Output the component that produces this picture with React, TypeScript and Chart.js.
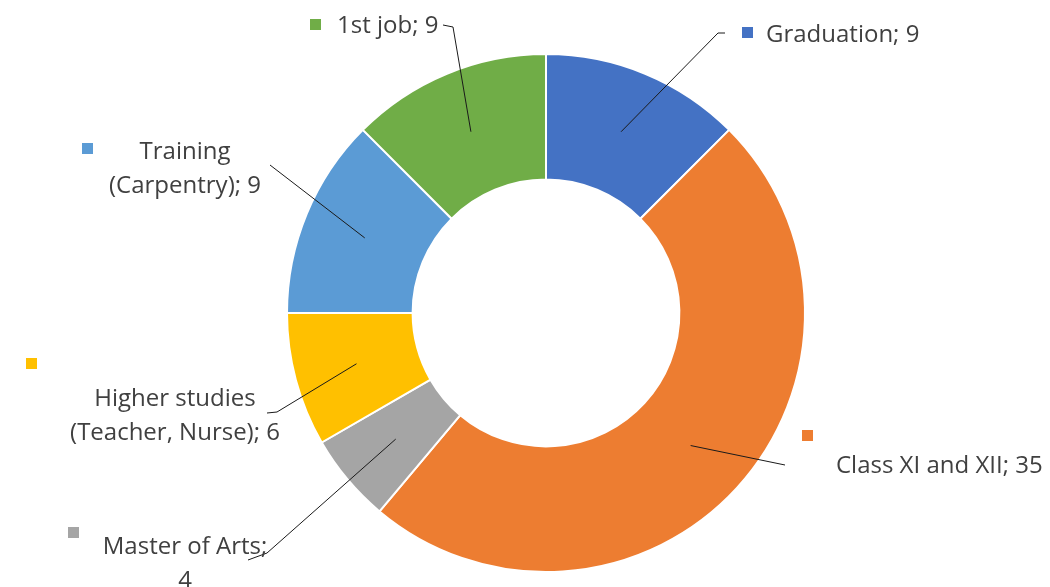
import React, { useEffect, useRef } from "react";
import { Chart, registerables } from "chart.js";

Chart.register(...registerables);

const categories = [
  "Graduation",
  "Class XI and XII",
  "Master of Arts",
  "Higher studies (Teacher, Nurse)",
  "Training (Carpentry)",
  "1st job",
];
const values = [9, 35, 4, 6, 9, 9];
const colors = ["#4472C4", "#ED7D31", "#A5A5A5", "#FFC000", "#5B9BD5", "#70AD47"];

// label layout: text lines, text anchor, alignment, legend-square position, leader elbow points
const labelLines = [
  ["Graduation; 9"],
  ["Class XI and XII; 35"],
  ["Master of Arts;", "4"],
  ["Higher studies", "(Teacher, Nurse); 6"],
  ["Training", "(Carpentry); 9"],
  ["1st job; 9"],
];
const labelLayout = [
  { x: 766, y: 35, align: "left", sq: [742, 27], elbow: [[725, 33], [718, 33]] },
  { x: 836, y: 466, align: "left", sq: [802, 430], elbow: [[785, 465]] },
  { x: 185, y: 547, align: "center", sq: [68, 527], elbow: [[248, 560], [267, 553]] },
  { x: 175, y: 399, align: "center", sq: [26, 358], elbow: [[267, 413], [277, 412]] },
  { x: 185, y: 152, align: "center", sq: [82, 143], elbow: [[270, 165]] },
  { x: 337, y: 26, align: "left", sq: [310, 19], elbow: [[443, 25], [453, 27]] },
];

const labelPlugin = {
  id: "leaderLabels",
  afterDraw(chart: any) {
    const ctx = chart.ctx;
    const meta = chart.getDatasetMeta(0);
    ctx.save();
    meta.data.forEach((arc: any, i: number) => {
      const L = labelLayout[i];
      const p = arc.getProps(["x", "y", "startAngle", "endAngle", "innerRadius", "outerRadius"], true);
      const mid = (p.startAngle + p.endAngle) / 2;
      const r = (p.innerRadius + p.outerRadius) / 2;
      const cx = p.x + Math.cos(mid) * r;
      const cy = p.y + Math.sin(mid) * r;
      ctx.strokeStyle = "#1a1a1a";
      ctx.lineWidth = 1;
      ctx.beginPath();
      ctx.moveTo(L.elbow[0][0], L.elbow[0][1]);
      for (let k = 1; k < L.elbow.length; k++) ctx.lineTo(L.elbow[k][0], L.elbow[k][1]);
      ctx.lineTo(cx, cy);
      ctx.stroke();
      ctx.fillStyle = colors[i];
      ctx.fillRect(L.sq[0], L.sq[1], 11, 11);
      ctx.fillStyle = "#404040";
      ctx.font = "24px 'Open Sans', sans-serif";
      ctx.textAlign = L.align as CanvasTextAlign;
      ctx.textBaseline = "middle";
      labelLines[i].forEach((t, j) => {
        ctx.fillText(t, L.x, L.y + j * 34);
      });
    });
    ctx.restore();
  },
};

export default function App() {
  const ref = useRef<HTMLCanvasElement>(null);
  useEffect(() => {
    document.body.style.margin = "0";
    const chart = new Chart(ref.current!, {
      type: "doughnut",
      data: {
        labels: categories,
        datasets: [
          {
            data: values,
            backgroundColor: colors,
            borderColor: "#ffffff",
            borderWidth: 2,
          },
        ],
      },
      options: {
        animation: false,
        responsive: false,
        cutout: "51.5%",
        layout: { padding: { top: 53, bottom: 14, left: 286, right: 244 } },
        plugins: { legend: { display: false }, tooltip: { enabled: false } },
      },
      plugins: [labelPlugin],
    });
    return () => chart.destroy();
  }, []);
  return (
    <div style={{ width: 1050, height: 587, background: "#fff" }}>
      <canvas ref={ref} width={1050} height={587} style={{ display: "block" }} />
    </div>
  );
}
